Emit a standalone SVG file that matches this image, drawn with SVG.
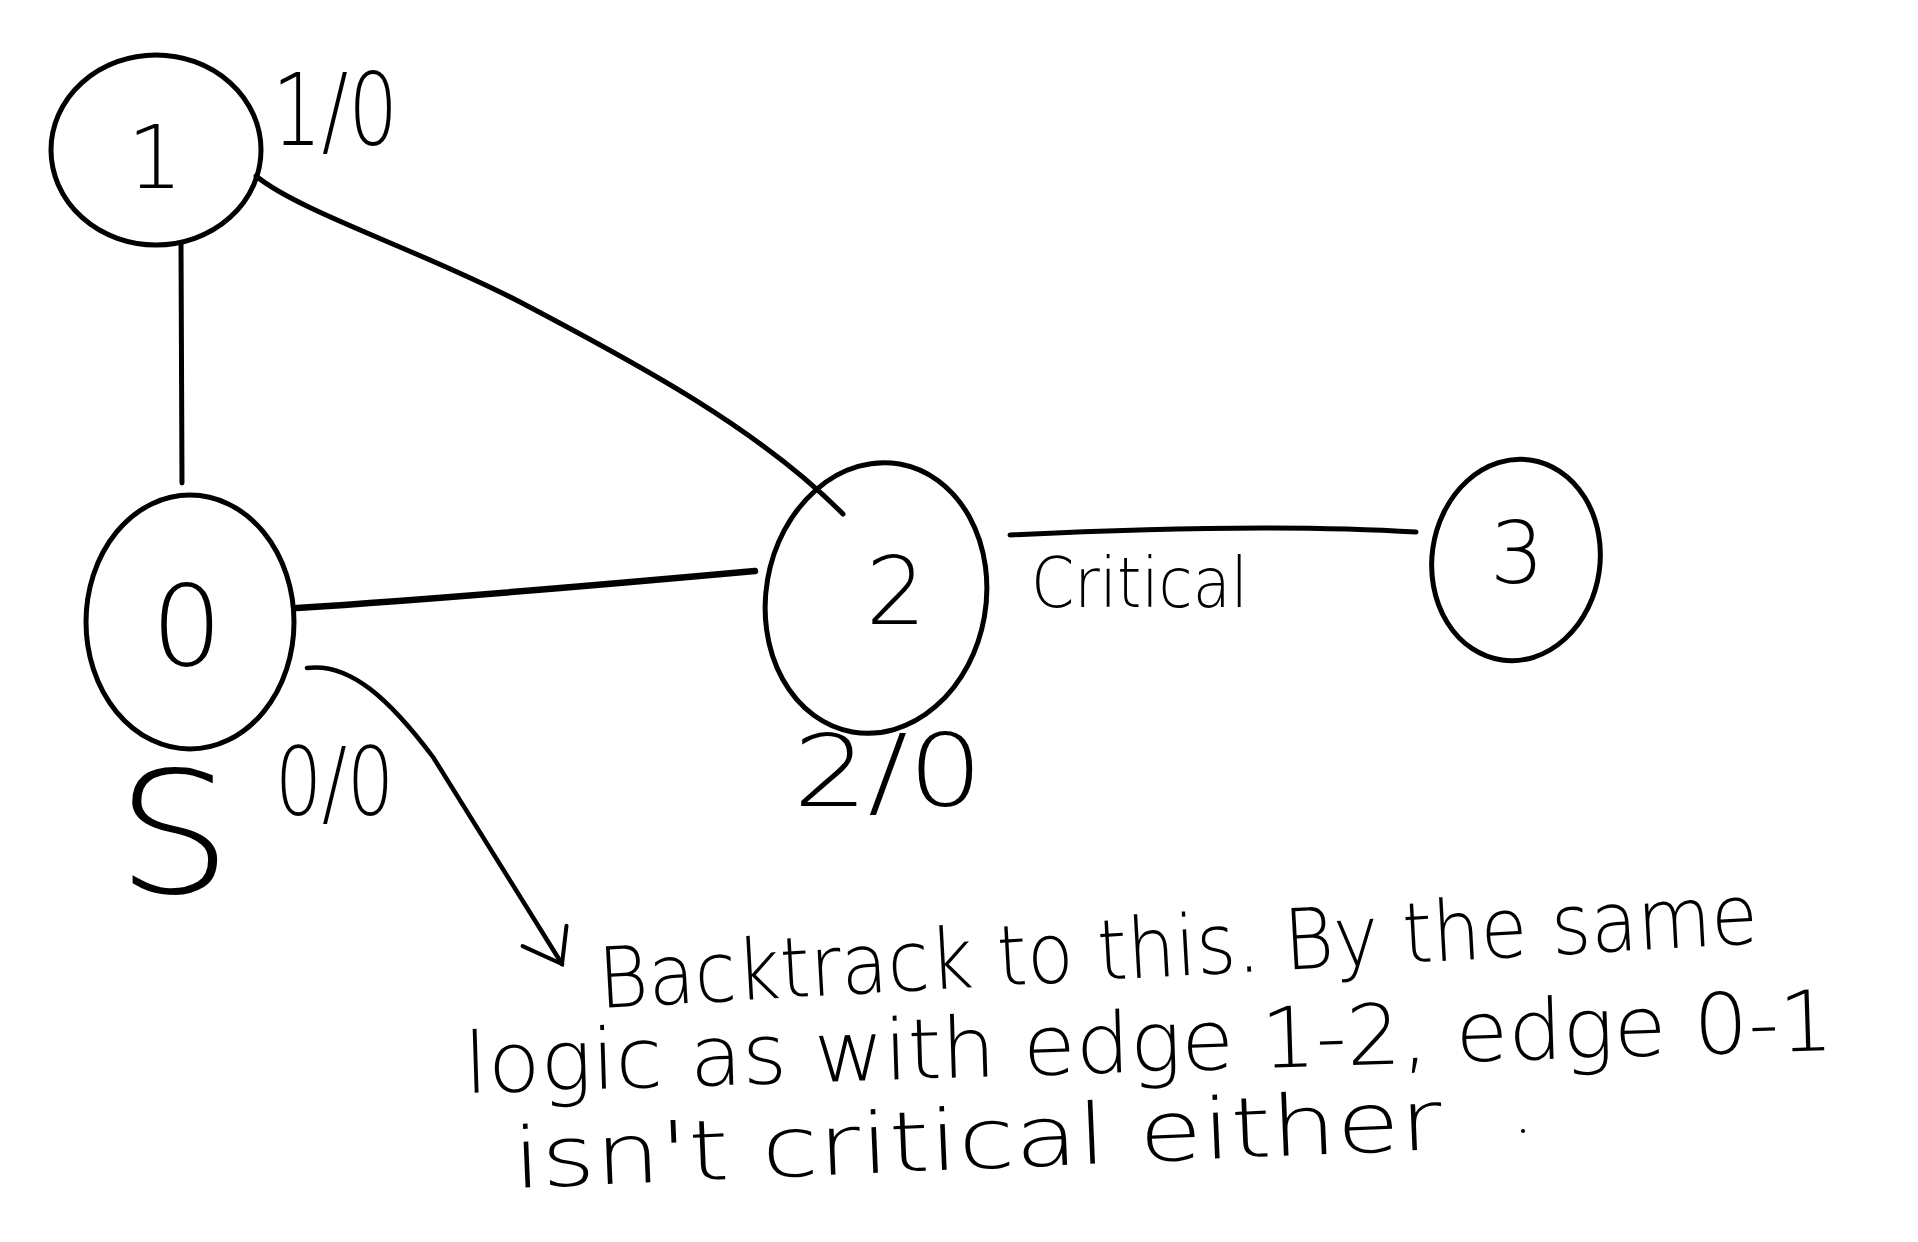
<svg xmlns="http://www.w3.org/2000/svg" width="1918" height="1242" viewBox="0 0 1918 1242">
  <style>
    .node { fill: none; stroke: #000; stroke-width: 5; }
    .edge { fill: none; stroke: #000; stroke-width: 5; stroke-linecap: round; }
    .lbl { font-family: "DejaVu Sans", "Liberation Sans", sans-serif; font-weight: 200; fill: #000; }
    .note { font-family: "DejaVu Sans", "Liberation Sans", sans-serif; font-weight: 200; fill: #000; font-size: 84px; }
  </style>
  <defs>
    <marker id="vhead" viewBox="-40 -30 50 60" markerWidth="50" markerHeight="60" refX="0" refY="0" orient="auto" markerUnits="userSpaceOnUse">
      <path d="M-30,-24 L0,0 L-36,24" fill="none" stroke="#000" stroke-width="4" stroke-linecap="round"/>
    </marker>
  </defs>
  <rect width="1918" height="1242" fill="#fff"/>

  <g id="connectors">
    <path id="edge-1-0" class="edge" d="M181,243 L182,483"/>
    <path id="edge-1-2" class="edge" d="M256,176 C300,212 420,250 520,302 C640,365 760,430 843,514"/>
    <path id="edge-0-2" class="edge" style="stroke-width:6.5" d="M297,608 C420,600 600,585 755,571"/>
    <path id="edge-2-3" class="edge" d="M1010,535 C1150,528 1300,525 1416,532"/>
    <path id="arrow-0-note" class="edge" style="stroke-width:4.5" d="M307,668 C350,662 390,700 433,757 L562,964" marker-end="url(#vhead)"/>
  </g>

  <g id="node-1">
    <ellipse class="node" cx="156" cy="150" rx="105" ry="95"/>
    <text class="lbl" x="155" y="188" font-size="88" text-anchor="middle">1</text>
    <text class="lbl" x="272" y="145" font-size="100" textLength="126" lengthAdjust="spacingAndGlyphs">1/0</text>
  </g>

  <g id="node-0">
    <ellipse class="node" cx="190" cy="622" rx="104" ry="127"/>
    <text class="lbl" x="187" y="665" font-size="112" text-anchor="middle">0</text>
    <text class="lbl" x="116" y="893" font-size="170" textLength="116" lengthAdjust="spacingAndGlyphs">S</text>
    <text class="lbl" x="275" y="815" font-size="95" textLength="119" lengthAdjust="spacingAndGlyphs">0/0</text>
  </g>

  <g id="node-2">
    <ellipse class="node" cx="876" cy="598" rx="110" ry="136" transform="rotate(10 876 598)"/>
    <text class="lbl" x="896" y="624" font-size="95" text-anchor="middle">2</text>
    <text class="lbl" x="793" y="806" font-size="100" textLength="190" lengthAdjust="spacingAndGlyphs">2/0</text>
  </g>

  <g id="node-3">
    <ellipse class="node" cx="1516" cy="560" rx="84" ry="101" transform="rotate(8 1516 560)"/>
    <text class="lbl" x="1517" y="583" font-size="85" text-anchor="middle">3</text>
  </g>

  <g id="edge-label">
    <text class="lbl" x="1031" y="607" font-size="70" textLength="217" lengthAdjust="spacingAndGlyphs">Critical</text>
  </g>

  <g id="note">
    <text class="note" x="600" y="1008" textLength="1161" lengthAdjust="spacingAndGlyphs" transform="rotate(-3.2 600 1008)">Backtrack to this. By the same</text>
    <text class="note" x="465" y="1093" textLength="1370" lengthAdjust="spacingAndGlyphs" transform="rotate(-1.8 465 1093)">logic as with edge 1-2, edge 0-1</text>
    <text class="note" x="514" y="1188" textLength="930" lengthAdjust="spacingAndGlyphs" transform="rotate(-2.4 514 1188)">isn't critical either</text>
    <circle cx="1523" cy="1131" r="2" fill="#000"/>
  </g>
</svg>
